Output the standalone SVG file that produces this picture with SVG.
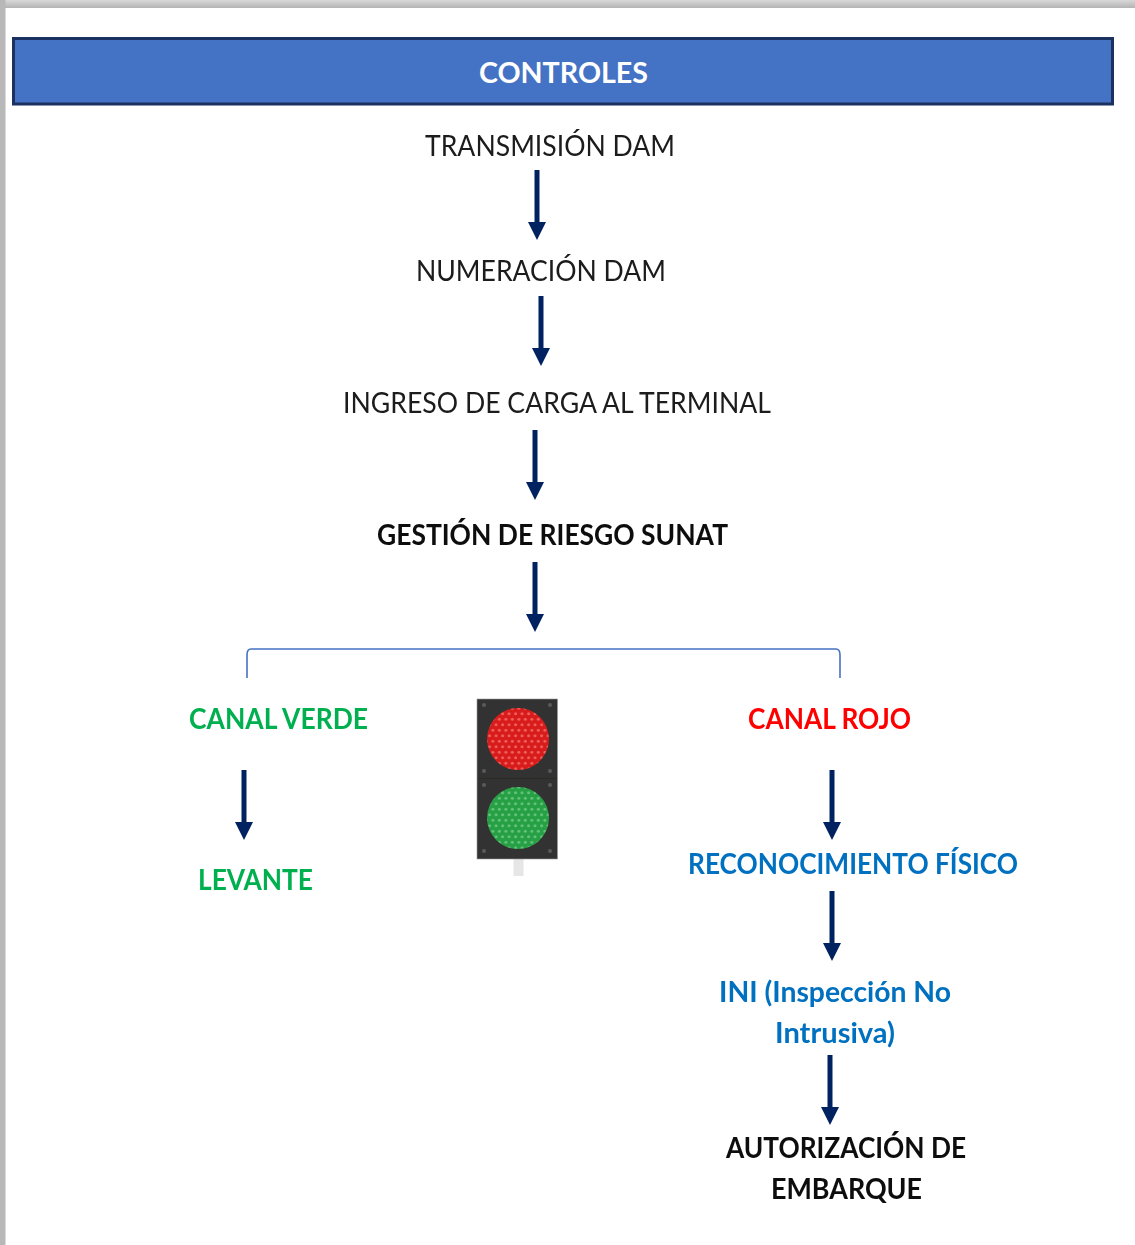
<svg xmlns="http://www.w3.org/2000/svg" width="1135" height="1245" viewBox="0 0 1135 1245">
<style>
text{font-family:"Lato","Carlito","Open Sans",sans-serif;font-size:29px;fill:#1a1a1a}
.b{font-weight:700;fill:#0d0d0d}
.g{font-weight:700;fill:#00b050}
.r{font-weight:700;fill:#ff0000}
.c{font-weight:700;fill:#0070c0}
.arrow{fill:none;stroke:#002060;stroke-width:5}
.screw{fill:#5a5a5a}
</style>
<defs>
<marker id="ah" markerUnits="userSpaceOnUse" markerWidth="18" markerHeight="18" refX="1" refY="9" orient="auto" viewBox="0 0 18 18"><path d="M0 0L18 9L0 18Z" fill="#002060"/></marker>
<linearGradient id="top" x1="0" y1="0" x2="0" y2="1"><stop offset="0" stop-color="#d8d8d8"/><stop offset="1" stop-color="#b4b4b4"/></linearGradient>
<pattern id="ledR" width="6.500" height="11" patternUnits="userSpaceOnUse" x="514" y="733"><rect width="6.500" height="11" fill="#d81a1c"/><circle cx="1.600" cy="2.700" r="1.500" fill="#f0605a"/><circle cx="4.850" cy="8.200" r="1.500" fill="#f0605a"/></pattern>
<pattern id="ledG" width="6.500" height="11" patternUnits="userSpaceOnUse" x="514" y="812"><rect width="6.500" height="11" fill="#279f45"/><circle cx="1.600" cy="2.700" r="1.500" fill="#62c47a"/><circle cx="4.850" cy="8.200" r="1.500" fill="#62c47a"/></pattern>
<filter id="soft" x="-5%" y="-5%" width="110%" height="110%"><feGaussianBlur stdDeviation="0.45"/></filter>
<filter id="softer" x="-5%" y="-5%" width="110%" height="110%"><feGaussianBlur stdDeviation="0.6"/></filter>
</defs>
<rect width="1135" height="1245" fill="#ffffff"/>
<rect x="0" y="0" width="1135" height="8" fill="url(#top)"/>
<rect x="0" y="0" width="5.500" height="1245" fill="#b8b8b8"/>

<g id="header">
<rect x="13.500" y="38.500" width="1099" height="65.500" fill="#4472c4" stroke="#1b3160" stroke-width="3"/>
<text class="b" style="fill:#fff" x="479" y="83" textLength="169" lengthAdjust="spacingAndGlyphs">CONTROLES</text>
</g>

<g id="connectors" filter="url(#soft)">
<path class="arrow" marker-end="url(#ah)" d="M537 170V223"/>
<path class="arrow" marker-end="url(#ah)" d="M541 296V349"/>
<path class="arrow" marker-end="url(#ah)" d="M535 430V483"/>
<path class="arrow" marker-end="url(#ah)" d="M535 562V615"/>
<path class="arrow" marker-end="url(#ah)" d="M244 770V823"/>
<path class="arrow" marker-end="url(#ah)" d="M832 770V823"/>
<path class="arrow" marker-end="url(#ah)" d="M832 891V944"/>
<path class="arrow" marker-end="url(#ah)" d="M830 1055V1108"/>
<path d="M247 678V655Q247 649 251 649H836Q840 649 840 655V678" fill="none" stroke="#4472c4" stroke-width="1.600"/>
</g>

<g id="node-transmision" filter="url(#soft)"><text x="425" y="156" textLength="250" lengthAdjust="spacingAndGlyphs">TRANSMISIÓN DAM</text></g>
<g id="node-numeracion" filter="url(#soft)"><text x="416" y="281" textLength="250" lengthAdjust="spacingAndGlyphs">NUMERACIÓN DAM</text></g>
<g id="node-ingreso" filter="url(#soft)"><text x="343" y="413" textLength="428" lengthAdjust="spacingAndGlyphs">INGRESO DE CARGA AL TERMINAL</text></g>
<g id="node-gestion" filter="url(#soft)"><text class="b" x="377" y="545" textLength="351" lengthAdjust="spacingAndGlyphs">GESTIÓN DE RIESGO SUNAT</text></g>
<g id="node-canal-verde" filter="url(#soft)"><text class="g" x="189" y="729" textLength="179" lengthAdjust="spacingAndGlyphs">CANAL VERDE</text></g>
<g id="node-canal-rojo" filter="url(#soft)"><text class="r" x="748" y="729" textLength="163" lengthAdjust="spacingAndGlyphs">CANAL ROJO</text></g>
<g id="node-levante" filter="url(#soft)"><text class="g" x="198" y="890" textLength="115" lengthAdjust="spacingAndGlyphs">LEVANTE</text></g>
<g id="node-reconocimiento" filter="url(#soft)"><text class="c" x="688" y="874" textLength="330" lengthAdjust="spacingAndGlyphs">RECONOCIMIENTO FÍSICO</text></g>
<g id="node-ini" filter="url(#soft)">
<text class="c" x="719" y="1002" textLength="232" lengthAdjust="spacingAndGlyphs">INI (Inspección No</text>
<text class="c" x="775" y="1043" textLength="120" lengthAdjust="spacingAndGlyphs">Intrusiva)</text>
</g>
<g id="node-autorizacion" filter="url(#soft)">
<text class="b" x="726" y="1158" textLength="240" lengthAdjust="spacingAndGlyphs">AUTORIZACIÓN DE</text>
<text class="b" x="771" y="1199" textLength="151" lengthAdjust="spacingAndGlyphs">EMBARQUE</text>
</g>

<g id="traffic-light" filter="url(#softer)">
<rect x="513.500" y="858" width="10" height="18" fill="#e6e6e6"/>
<rect x="477" y="699" width="80.500" height="160" fill="#333331" stroke="#9a9a9a" stroke-width="0.600"/>
<path d="M478 778.500H557" stroke="#2a2a28" stroke-width="1.500"/>
<circle cx="518" cy="739" r="31" fill="url(#ledR)"/>
<circle cx="518" cy="818" r="31" fill="url(#ledG)"/>
<circle class="screw" cx="484" cy="705" r="2"/><circle class="screw" cx="550" cy="705" r="2"/>
<circle class="screw" cx="484" cy="771" r="2"/><circle class="screw" cx="550" cy="771" r="2"/>
<circle class="screw" cx="484" cy="785" r="2"/><circle class="screw" cx="550" cy="785" r="2"/>
<circle class="screw" cx="484" cy="851" r="2"/><circle class="screw" cx="550" cy="851" r="2"/>
</g>
</svg>
